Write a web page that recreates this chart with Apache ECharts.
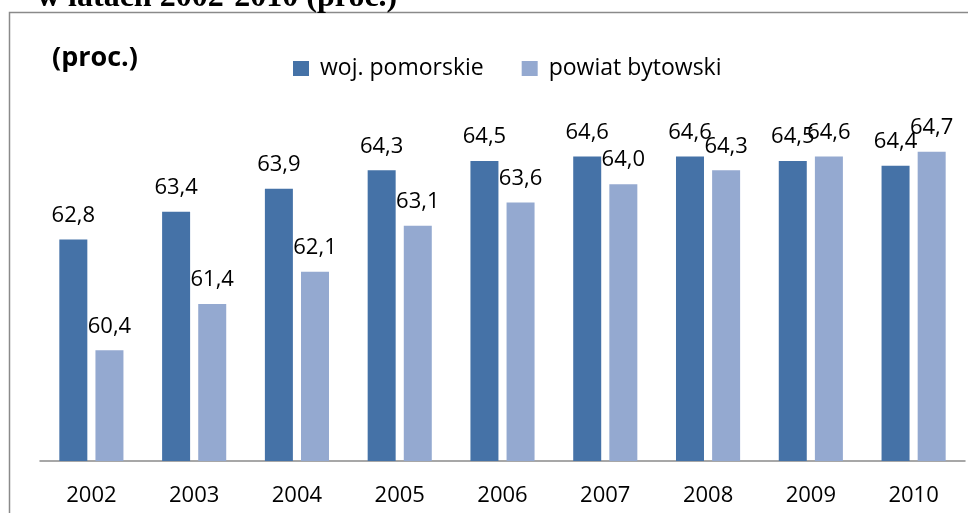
<!DOCTYPE html>
<html>
<head>
<meta charset="utf-8">
<script src="https://cdn.jsdelivr.net/npm/echarts@6/dist/echarts.min.js"></script>
<style>
  html, body { margin: 0; padding: 0; background: #fff; }
  #chart { width: 968px; height: 513px; }
</style>
</head>
<body>
<div id="chart"></div>
<script>
// values
var years = ['2002', '2003', '2004', '2005', '2006', '2007', '2008', '2009', '2010'];
var wojPomorskie = [62.8, 63.4, 63.9, 64.3, 64.5, 64.6, 64.6, 64.5, 64.4];
var powiatBytowski = [60.4, 61.4, 62.1, 63.1, 63.6, 64.0, 64.3, 64.6, 64.7];

var font = '"Open Sans", "Noto Sans", sans-serif';

var fmt = function (p) {
  return p.value.toFixed(1).replace('.', ',');
};

var labelStyle = {
  show: true,
  position: 'top',
  distance: 13,
  color: '#000',
  fontFamily: font,
  fontSize: 22,
  formatter: fmt
};

var chart = echarts.init(document.getElementById('chart'), null, { renderer: 'canvas' });

chart.setOption({
  animation: false,
  backgroundColor: '#fff',
  textStyle: { fontFamily: font },
  graphic: [
    {
      type: 'rect',
      shape: { x: 9.5, y: 12.5, width: 1000, height: 600 },
      style: { fill: 'none', stroke: '#8a8a8a', lineWidth: 1.5 },
      silent: true
    },
    {
      // page title above the chart, cut off by the top edge
      type: 'text',
      left: 37,
      top: -18,
      style: {
        text: 'w latach 2002-2010 (proc.)',
        fontFamily: '"Liberation Serif", "DejaVu Serif", serif',
        fontWeight: 'bold',
        fontSize: 32,
        fill: '#000'
      },
      silent: true
    },
    {
      type: 'text',
      left: 52,
      top: 45,
      style: {
        text: '(proc.)',
        fontFamily: font,
        fontWeight: 'bold',
        fontSize: 27,
        fill: '#000'
      },
      silent: true
    }
  ],
  legend: {
    left: 288,
    top: 52,
    itemWidth: 16,
    itemHeight: 15,
    itemGap: 38,
    icon: 'rect',
    textStyle: { fontFamily: font, fontSize: 23, color: '#000', padding: [0, 0, 0, 6] },
    data: ['woj. pomorskie', 'powiat bytowski']
  },
  grid: { left: 40, right: 3, top: 138, bottom: 52 },
  xAxis: {
    type: 'category',
    data: years,
    axisLine: { lineStyle: { color: '#8a8a8a', width: 1.5 } },
    axisTick: { show: false },
    axisLabel: { color: '#000', fontFamily: font, fontSize: 22, margin: 24 }
  },
  yAxis: {
    type: 'value',
    min: 58,
    max: 65,
    show: false,
    splitLine: { show: false }
  },
  series: [
    {
      name: 'woj. pomorskie',
      type: 'bar',
      data: wojPomorskie,
      barWidth: 28,
      barGap: '29%',
      itemStyle: { color: '#4572a7' },
      label: labelStyle
    },
    {
      name: 'powiat bytowski',
      type: 'bar',
      data: powiatBytowski,
      barWidth: 28,
      barGap: '29%',
      itemStyle: { color: '#94a9d0' },
      label: labelStyle
    }
  ]
});
</script>
</body>
</html>
